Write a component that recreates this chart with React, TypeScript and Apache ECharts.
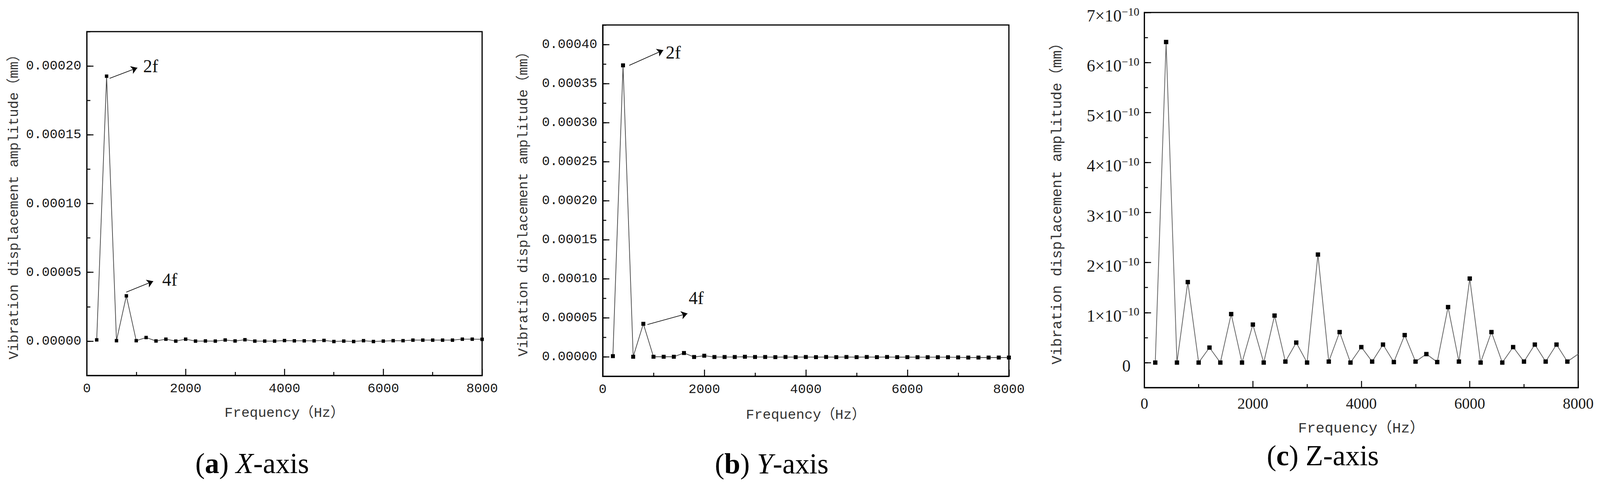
import React, { useEffect, useRef } from "react";
import * as echarts from "echarts";

// ---------------- data ----------------
const freqHz = [
  200, 400, 600, 800, 1000, 1200, 1400, 1600, 1800, 2000,
  2200, 2400, 2600, 2800, 3000, 3200, 3400, 3600, 3800, 4000,
  4200, 4400, 4600, 4800, 5000, 5200, 5400, 5600, 5800, 6000,
  6200, 6400, 6600, 6800, 7000, 7200, 7400, 7600, 7800, 8000,
];

// (a) X-axis amplitude (mm)
const xAxisAmp = [
  0.0000009, 0.0001926, 0.0000003, 0.0000329, 0.0000003, 0.0000026, 0.0000001, 0.0000014, 0.0, 0.0000014,
  0.0, 0.0000001, 0.0, 0.0000008, 0.0000001, 0.000001, 0.0, 0.0, 0.0, 0.0000004,
  0.0000002, 0.0000002, 0.0000002, 0.0000005, -0.0000003, 0.0, -0.0000003, 0.0000003, -0.0000003, 0.0,
  0.0000003, 0.0000003, 0.0000007, 0.0000007, 0.0000007, 0.0000007, 0.0000007, 0.0000014, 0.0000014, 0.0000013,
];

// (b) Y-axis amplitude (mm)
const yAxisAmp = [
  0.0000008, 0.0003733, 0.0, 0.0000422, 0.0, 0.0, 0.0, 0.0000048, -0.0000003, 0.0000013,
  -0.0000003, -0.0000003, -0.0000003, 0.0, -0.0000003, -0.0000003, -0.0000005, -0.0000003, -0.0000005, -0.0000003,
  -0.0000005, -0.0000003, -0.0000005, -0.0000003, -0.0000005, -0.0000003, -0.0000005, -0.0000003, -0.0000005, -0.0000005,
  -0.0000006, -0.0000006, -0.0000006, -0.0000006, -0.0000008, -0.000001, -0.000001, -0.000001, -0.000001, -0.000001,
];

// (c) Z-axis amplitude (mm)
const zAxisAmp = [
  0.0, 6.41e-10, 0.0, 1.61e-10, 0.0, 0.3e-10, 0.0, 0.97e-10, 0.0, 0.76e-10,
  0.0, 0.94e-10, 0.02e-10, 0.4e-10, 0.0, 2.16e-10, 0.02e-10, 0.61e-10, 0.0, 0.31e-10,
  0.02e-10, 0.36e-10, 0.01e-10, 0.55e-10, 0.02e-10, 0.17e-10, 0.01e-10, 1.11e-10, 0.02e-10, 1.68e-10,
  0.0, 0.61e-10, 0.0, 0.31e-10, 0.02e-10, 0.36e-10, 0.02e-10, 0.36e-10, 0.02e-10, 0.17e-10,
];

// axis ranges / tick steps
const xRange = [0, 8000];
const xStep = 2000;
const yRanges = [
  [-0.000025, 0.000225],
  [-0.000025, 0.000425],
  [-0.5e-10, 7e-10],
];
const yLabelMax = [0.0002, 0.0004, 7e-10];
const yStep = [0.00005, 0.00005, 1e-10];

// harmonic annotations: text, arrow start [Hz, amp], arrow end [Hz, amp], label centre [Hz, amp]
const harmonicTexts = ["2f", "4f"];
const xArrowFrom = [[461, 0.000191], [798, 0.0000356]];
const xArrowTo = [[1022, 0.0001987], [1343, 0.0000435]];
const xTextAt = [[1292, 0.0001998], [1678, 0.0000446]];
const yArrowFrom = [[522, 0.0003733], [880, 0.0000413]];
const yArrowTo = [[1193, 0.0003927], [1669, 0.0000554]];
const yTextAt = [[1390, 0.0003897], [1841, 0.0000752]];

const yTitle = "Vibration displacement amplitude（mm）";
const xTitle = "Frequency（Hz）";
const captionLetters = ["a", "b", "c"];
const captionAxes = ["X", "Y", "Z"];

// ---------------- styling / layout (designed on a 4404 x 1240 canvas) ----------------
const DESIGN_W = 4404;
const DESIGN_H = 1240;
const MONO = "'Liberation Mono', 'Noto Sans CJK SC', monospace";
const SERIF = "'Liberation Serif', 'Times New Roman', serif";
const INK = "#1a1a1a";

const GRIDS = [
  { left: 239, top: 81, width: 1088, height: 881 },
  { left: 1659, top: 64, width: 1118, height: 900 },
  { left: 3150, top: 32, width: 1194, height: 961 },
];
const symbolSizes = [9, 10.5, 11.5];
const lineColors = ["#444", "#444", "#666"];
const yNameGap = [181, 198, 219];
const yNameSize = [37, 37, 39];
const xNameGap = [79, 82, 86];
const xNameSize = [37, 37, 39];
const captionPos = [[694, 1187], [2124, 1188], [3641, 1167]];

function isMultiple(v: number, step: number) {
  const r = v / step;
  return Math.abs(r - Math.round(r)) < 1e-6;
}

function buildOption(kx: number) {
  const kf = Math.sqrt(kx);
  const amps = [xAxisAmp, yAxisAmp, zAxisAmp];
  const grids: any[] = [];
  const xAxes: any[] = [];
  const yAxes: any[] = [];
  const series: any[] = [];

  const gridBox = (i: number) => ({
    left: GRIDS[i].left * kx,
    width: GRIDS[i].width * kx,
    top: GRIDS[i].top,
    height: GRIDS[i].height,
  });

  for (let i = 0; i < 3; i++) {
    grids.push({ ...gridBox(i), show: true, borderColor: "#000", borderWidth: 3, backgroundColor: "transparent" });
  }
  // helper grids carrying only the long major ticks of each value axis (from 0 to the top label)
  for (let i = 0; i < 3; i++) {
    const g = gridBox(i);
    const [mn, mx] = yRanges[i];
    const ppu = g.height / (mx - mn);
    grids.push({
      left: g.left,
      width: g.width,
      top: g.top + (mx - yLabelMax[i]) * ppu,
      height: yLabelMax[i] * ppu,
      show: false,
    });
  }

  const tickStyle = { color: "#000", width: 2.5 };
  for (let i = 0; i < 3; i++) {
    const isC = i === 2;
    xAxes.push({
      type: "value",
      gridIndex: i,
      min: xRange[0],
      max: xRange[1],
      interval: xStep,
      axisLine: { show: true, onZero: false, lineStyle: { color: "#000", width: 3 } },
      axisTick: { show: true, inside: true, length: 17, lineStyle: tickStyle },
      minorTick: { show: true, splitNumber: 2, length: 9, lineStyle: tickStyle },
      splitLine: { show: false },
      axisLabel: {
        color: INK,
        fontFamily: isC ? SERIF : MONO,
        fontSize: (isC ? 41 : 35) * kf,
        margin: isC ? 21 : 17,
        formatter: (v: number) => String(v),
      },
      name: xTitle,
      nameLocation: "middle",
      nameGap: xNameGap[i],
      nameTextStyle: { fontFamily: MONO, fontSize: xNameSize[i] * kf, color: "#333" },
    });
  }
  for (let i = 0; i < 3; i++) {
    xAxes.push({ type: "value", gridIndex: 3 + i, min: 0, max: 1, show: false });
  }

  for (let i = 0; i < 3; i++) {
    const isC = i === 2;
    const step = yStep[i];
    const labelMax = yLabelMax[i];
    yAxes.push({
      type: "value",
      gridIndex: i,
      min: yRanges[i][0],
      max: yRanges[i][1],
      interval: step / 2,
      axisLine: { show: true, onZero: false, lineStyle: { color: "#000", width: 3 } },
      axisTick: { show: true, inside: true, length: 9, lineStyle: tickStyle },
      splitLine: { show: false },
      axisLabel: isC
        ? {
            color: INK,
            fontFamily: SERIF,
            margin: 14 * kx,
            padding: [16, 0, 0, 0],
            formatter: (v: number) => {
              if (!isMultiple(v, step) || v < -step * 1e-6 || v > labelMax + step * 1e-6) return "";
              const n = Math.round(v / step);
              if (n === 0) return "{z|0}";
              return `{b|${n}×10}{s|−10}`;
            },
            rich: {
              b: { fontFamily: SERIF, fontSize: 45 * kf, color: INK, lineHeight: 50 },
              s: { fontFamily: SERIF, fontSize: 30 * kf, color: INK, verticalAlign: "top", lineHeight: 30 },
              z: { fontFamily: SERIF, fontSize: 45 * kf, color: INK, lineHeight: 50, padding: [0, 24 * kx, 0, 0] },
            },
          }
        : {
            color: INK,
            fontFamily: MONO,
            fontSize: 35 * kf,
            margin: 15 * kx,
            formatter: (v: number) => {
              if (!isMultiple(v, step) || v < -step * 1e-6 || v > labelMax + step * 1e-6) return "";
              return v.toFixed(5);
            },
          },
      name: yTitle,
      nameLocation: "middle",
      nameRotate: 90,
      nameGap: yNameGap[i] * kx,
      nameTextStyle: { fontFamily: MONO, fontSize: yNameSize[i] * kf, color: "#333" },
    });
  }
  for (let i = 0; i < 3; i++) {
    yAxes.push({
      type: "value",
      gridIndex: 3 + i,
      min: 0,
      max: yLabelMax[i],
      interval: yStep[i],
      axisLine: { show: false },
      axisTick: { show: true, inside: true, length: 17, lineStyle: tickStyle },
      axisLabel: { show: false },
      splitLine: { show: false },
    });
  }

  const arrowSets = [
    [xArrowFrom, xArrowTo, xTextAt],
    [yArrowFrom, yArrowTo, yTextAt],
  ];

  for (let i = 0; i < 3; i++) {
    const size = symbolSizes[i] * kf;
    const s: any = {
      type: "line",
      xAxisIndex: i,
      yAxisIndex: i,
      data: freqHz.map((f, k) => [f, amps[i][k]]),
      symbol: "rect",
      symbolSize: i === 2 ? (val: number[]) => (val[0] >= xRange[1] ? 0 : size) : size,
      showAllSymbol: true,
      itemStyle: { color: "#000" },
      lineStyle: { color: lineColors[i], width: i === 2 ? 2 : 1.8 },
      emphasis: { disabled: true },
      silent: true,
    };
    if (i < 2) {
      const [from, to, at] = arrowSets[i];
      s.markLine = {
        silent: true,
        symbol: ["none", "arrow"],
        symbolSize: 16,
        lineStyle: { color: "#000", width: 1.6, type: "solid" },
        label: { show: false },
        emphasis: { disabled: true },
        data: from.map((p, k) => [{ coord: p }, { coord: to[k] }]),
      };
      s.markPoint = {
        silent: true,
        symbol: "rect",
        symbolSize: 1,
        itemStyle: { color: "rgba(0,0,0,0)" },
        label: {
          show: true,
          position: "inside",
          formatter: "{b}",
          fontFamily: SERIF,
          fontSize: 48 * kf,
          color: "#111",
        },
        data: at.map((p, k) => ({ name: harmonicTexts[k], coord: p })),
      };
    }
    series.push(s);
  }

  const cf = 76 * kf;
  const graphic: any[] = captionPos.map(([x, y], i) => ({
    type: "text",
    x: x * kx,
    y,
    silent: true,
    style: {
      text: `{p|(}{b|${captionLetters[i]}}{p|) }{${i === 2 ? "p" : "i"}|${captionAxes[i]}}{p|-axis}`,
      align: "center",
      verticalAlign: "middle",
      textAlign: "center",
      textVerticalAlign: "middle",
      fontFamily: SERIF,
      fontSize: cf,
      fill: "#000",
      rich: {
        p: { fontFamily: SERIF, fontSize: cf, fill: "#000", color: "#000" },
        b: { fontFamily: SERIF, fontSize: cf, fontWeight: "bold", fill: "#000", color: "#000" },
        i: { fontFamily: SERIF, fontSize: cf, fontStyle: "italic", fill: "#000", color: "#000" },
      },
    },
  }));

  return {
    animation: false,
    backgroundColor: "#fff",
    grid: grids,
    xAxis: xAxes,
    yAxis: yAxes,
    series,
    graphic,
  };
}

export default function App() {
  const ref = useRef<HTMLDivElement>(null);
  const vw = typeof window !== "undefined" ? Math.min(window.innerWidth || DESIGN_W, DESIGN_W) : DESIGN_W;
  useEffect(() => {
    if (!ref.current) return;
    const w = Math.min(window.innerWidth || DESIGN_W, DESIGN_W);
    const chart = echarts.init(ref.current, undefined, { renderer: "svg", width: w, height: DESIGN_H });
    chart.setOption(buildOption(w / DESIGN_W) as any);
    return () => chart.dispose();
  }, []);
  return (
    <div
      ref={ref}
      style={{ position: "absolute", left: 0, top: 0, width: vw, height: DESIGN_H, background: "#fff" }}
    />
  );
}
